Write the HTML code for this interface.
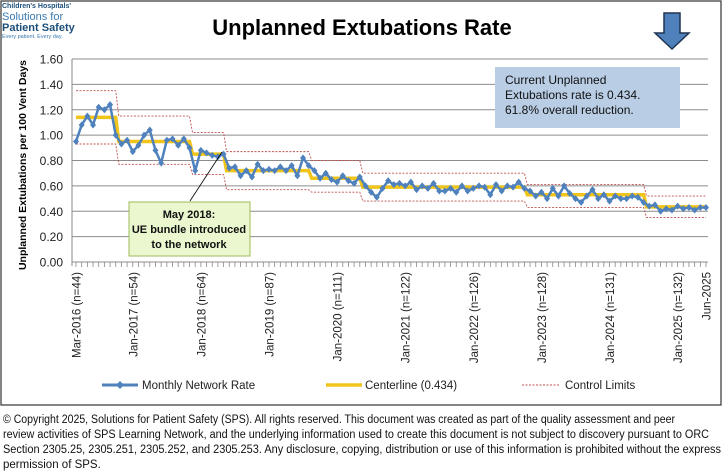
<!DOCTYPE html>
<html><head><meta charset="utf-8"><style>
body{margin:0;background:#fff;width:723px;height:472px;overflow:hidden}
svg{display:block;font-family:"Liberation Sans",sans-serif}
</style></head><body>
<svg id="c" width="723" height="472" viewBox="0 0 723 472">
<rect x="1" y="1" width="720" height="404" fill="#fff" stroke="#333" stroke-width="1.2"/>
<g>
<text x="2" y="8" font-size="7" font-weight="bold" fill="#1d4f7a">Children's Hospitals'</text>
<text x="2" y="20" font-size="11" fill="#3a7ab0">Solutions for</text>
<text x="2" y="31" font-size="11" font-weight="bold" fill="#1d4f7a">Patient Safety</text>
<text x="2" y="38" font-size="5.5" fill="#3a7ab0">Every patient. Every day.</text>
</g>
<text x="362" y="35" text-anchor="middle" font-size="22" font-weight="bold" fill="#000">Unplanned Extubations Rate</text>
<path d="M664 13 H680 V33 H689 L672 49 L655 33 H664 Z" fill="#4f81bd" stroke="#1f3450" stroke-width="1.5"/>
<g id="grid"></g>
<g id="axes"></g>
<g id="series"></g>
<text transform="translate(26,165) rotate(-90)" text-anchor="middle" font-size="10.5" font-weight="bold" fill="#000">Unplanned Extubations per 100 Vent Days</text>
<g>
<rect x="495" y="67" width="185" height="61" fill="#b9cde5"/>
<text font-size="12" fill="#111"><tspan x="505" y="84">Current Unplanned</tspan><tspan x="505" y="99">Extubations rate is 0.434.</tspan><tspan x="505" y="114">61.8% overall reduction.</tspan></text>
</g>
<line x1="222" y1="152" x2="190" y2="201" stroke="#000" stroke-width="0.8"/>
<g>
<rect x="129" y="202" width="121" height="54" fill="#ebf7cf" stroke="#9bbb59" stroke-width="1"/>
<text font-size="11" font-weight="bold" fill="#111" text-anchor="middle"><tspan x="189" y="218">May 2018:</tspan><tspan x="189" y="233">UE bundle introduced</tspan><tspan x="189" y="248">to the network</tspan></text>
</g>
<g>
<line x1="102" y1="385" x2="138" y2="385" stroke="#4f81bd" stroke-width="3"/>
<path d="M120 381 L124 385 L120 389 L116 385Z" fill="#4f81bd"/>
<text x="142" y="389" font-size="11.5" fill="#222">Monthly Network Rate</text>
<line x1="326" y1="385" x2="362" y2="385" stroke="#f0c419" stroke-width="3.5"/>
<text x="365" y="389" font-size="11.5" fill="#222">Centerline (0.434)</text>
<line x1="522" y1="385" x2="560" y2="385" stroke="#c0504d" stroke-width="0.9" stroke-dasharray="2,1.5"/>
<text x="565" y="389" font-size="11.5" fill="#222">Control Limits</text>
</g>
<g font-size="11.5" fill="#111">
<text x="3" y="423" textLength="672" lengthAdjust="spacingAndGlyphs">© Copyright 2025, Solutions for Patient Safety (SPS).  All rights reserved.  This document was created as part of the quality assessment and peer</text>
<text x="3" y="438" textLength="706" lengthAdjust="spacingAndGlyphs">review activities of SPS Learning Network, and the underlying information used to create this document is not subject to discovery pursuant to ORC</text>
<text x="3" y="453" textLength="718" lengthAdjust="spacingAndGlyphs">Section 2305.25, 2305.251, 2305.252, and 2305.253. Any disclosure, copying, distribution or use of this information is prohibited without the express</text>
<text x="3" y="468">permission of SPS.</text>
</g>
</svg>
<script>
const yTicks=[0,0.2,0.4,0.6,0.8,1.0,1.2,1.4,1.6];
const xLabelMonths=[0,10,22,34,46,58,70,82,94,106,111];
const xLabels=["Mar-2016 (n=44)","Jan-2017 (n=54)","Jan-2018 (n=64)","Jan-2019 (n=87)","Jan-2020 (n=111)","Jan-2021 (n=122)","Jan-2022 (n=126)","Jan-2023 (n=128)","Jan-2024 (n=131)","Jan-2025 (n=132)","Jun-2025"];
const monthlyRate=[0.95,1.08,1.15,1.08,1.22,1.20,1.24,1.00,0.93,0.96,0.87,0.92,1.00,1.04,0.88,0.78,0.96,0.97,0.92,0.97,0.90,0.72,0.88,0.86,0.84,0.83,0.85,
0.74,0.75,0.68,0.72,0.67,0.77,0.72,0.73,0.72,0.75,0.72,0.76,0.68,0.82,0.76,
0.72,0.66,0.70,0.65,0.63,0.68,0.64,0.62,0.67,
0.60,0.55,0.51,0.58,0.64,0.61,0.62,0.60,0.63,0.57,0.60,0.58,0.62,0.56,0.56,0.58,0.55,0.60,0.56,0.58,0.60,0.59,0.53,0.61,0.56,0.60,0.59,0.63,
0.58,0.56,0.52,0.55,0.50,0.58,0.52,0.60,0.54,0.50,0.47,0.52,0.57,0.50,0.53,0.48,0.52,0.50,0.50,0.52,0.51,
0.47,0.44,0.45,0.40,0.42,0.41,0.44,0.42,0.43,0.41,0.43,0.43];
const segStart=[0,7,20,26,41,50,79,100];
const segEnd=[7,20,26,41,50,79,100,111];
const centerline=[1.14,0.95,0.85,0.72,0.66,0.59,0.53,0.434];
const ucl=[1.35,1.15,1.02,0.87,0.80,0.70,0.61,0.52];
const lcl=[0.93,0.77,0.69,0.57,0.55,0.48,0.43,0.35];

const NS="http://www.w3.org/2000/svg";
const X0=76,X1=706,Y0=262,Y1=59,NM=112;
const xs=m=>X0+(X1-X0)*m/(NM-1);
const ys=v=>Y0-(Y0-Y1)*v/1.6;
function mk(tag,attrs,parent){const e=document.createElementNS(NS,tag);for(const k in attrs)e.setAttribute(k,attrs[k]);parent.appendChild(e);return e;}
const grid=document.getElementById('grid'),axes=document.getElementById('axes'),ser=document.getElementById('series');
yTicks.forEach(v=>{
  const g=mk('line',{x1:72,x2:708,y1:ys(v),y2:ys(v),stroke:'#8c8c8c','stroke-width':1},grid);
  
  
  const t=mk('text',{x:63,y:ys(v)+4.5,'text-anchor':'end','font-size':12,fill:'#222'},axes);
  t.textContent=v.toFixed(2);
  
  
});
mk('line',{x1:72,x2:72,y1:Y1,y2:Y0+4,stroke:'#888'},axes);
for(let m=0;m<NM;m++){mk('line',{x1:xs(m),x2:xs(m),y1:Y0,y2:Y0+5,stroke:'#888','stroke-width':0.8},axes);}
xLabelMonths.forEach((m,i)=>{
  const t=mk('text',{transform:`translate(${xs(m)+4.5},272) rotate(-90)`,'text-anchor':'end','font-size':11.5,fill:'#222'},axes);
  t.textContent=xLabels[i];
  
  
});
function stepPath(arr,slope){let d='';arr.forEach((v,i)=>{const a=xs(segStart[i]),b=xs(segEnd[i]);if(i===0)d+=`M${a} ${ys(v)}`;else d+=` L${a+slope} ${ys(v)}`;d+=` L${b} ${ys(v)}`;});return d;}
[ucl,lcl].forEach(arr=>{
  const p=mk('path',{d:stepPath(arr,3),fill:'none',stroke:'#c0504d','stroke-width':0.9,'stroke-dasharray':'2,1.5'},ser);
  
  
});
const cl=mk('path',{d:stepPath(centerline,3),fill:'none',stroke:'#f0c419','stroke-width':3.5},ser);


const ln=mk('polyline',{points:monthlyRate.map((v,i)=>xs(i)+','+ys(v)).join(' '),fill:'none',stroke:'#4f81bd','stroke-width':2.5},ser);


monthlyRate.forEach((v,i)=>{
  const x=xs(i),y=ys(v);
  const p=mk('path',{d:`M${x} ${y-3.5} L${x+3} ${y} L${x} ${y+3.5} L${x-3} ${y}Z`,fill:'#4f81bd'},ser);
  
  
});
</script>
</body></html>
